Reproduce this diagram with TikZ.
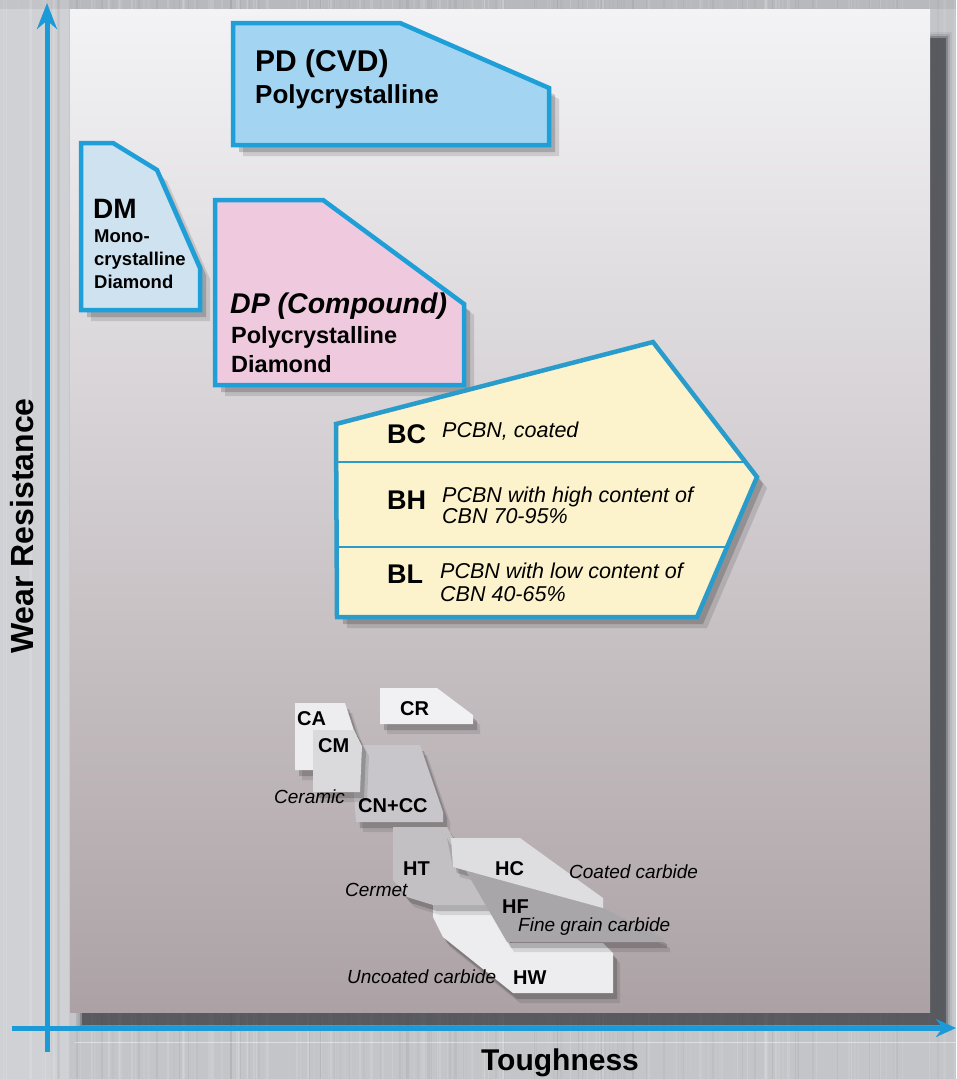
\documentclass[tikz,border=0pt]{standalone}
\usepackage{fontspec}
\setmainfont{Liberation Sans}
\usetikzlibrary{arrows.meta,shadows}
\definecolor{axisblue}{HTML}{1B9AD7}
\definecolor{edgeblue}{HTML}{1E9FD8}
\definecolor{bedge}{HTML}{2A9CCB}
\definecolor{pdfill}{HTML}{A3D5F2}
\definecolor{dmfill}{HTML}{CEE2F0}
\definecolor{dpfill}{HTML}{EFCADE}
\definecolor{bfill}{HTML}{FCF2CB}
\definecolor{bgmetal}{HTML}{C3C5C9}
\definecolor{paneltop}{HTML}{F3F3F6}
\definecolor{panelmid}{HTML}{DDD9DB}
\definecolor{panelbot}{HTML}{ACA2A5}
\definecolor{panelshadow}{HTML}{3C3F44}
\definecolor{gA}{HTML}{EDEDEF}
\definecolor{gM}{HTML}{DADADC}
\definecolor{gN}{HTML}{C8C6CA}
\definecolor{gR}{HTML}{F1F0F2}
\definecolor{gT}{HTML}{C2C0C3}
\definecolor{gC}{HTML}{DEDDE0}
\definecolor{gF}{HTML}{A9A6AA}
\definecolor{gW}{HTML}{EDECEE}
\newcommand\myfs[1]{\fontsize{#1}{#1}\selectfont}
\tikzset{
  bluebox/.style={draw=edgeblue, line width=4.5pt, line join=miter,
    drop shadow={shadow xshift=6pt, shadow yshift=-7pt, opacity=.18, fill=black},
    drop shadow={shadow xshift=10pt, shadow yshift=-11pt, opacity=.12, fill=black}},
  graybox/.style={draw=none,
    drop shadow={shadow xshift=4pt, shadow yshift=-6pt, opacity=.18, fill=black},
    drop shadow={shadow xshift=7pt, shadow yshift=-10pt, opacity=.10, fill=black}},
  lbl/.style={anchor=base west, inner sep=0pt, text=black},
  axisline/.style={draw=axisblue, line width=5pt},
  divider/.style={draw=bedge, line width=2.5pt}
}
\begin{document}
\begin{tikzpicture}[x=1pt,y=-1pt]
\useasboundingbox (0,0) rectangle (956,1079);
% metallic background
\fill[bgmetal] (0,0) rectangle (956,1079);
\fill[white, opacity=.22] (0,0) rectangle (70,1079);
\fill[black, opacity=.06] (0,0) rectangle (956,9);
\pgfmathsetseed{7}
\foreach \i in {1,...,220}{
  \pgfmathsetmacro\xx{rnd*956}
  \pgfmathsetmacro\oo{0.03+0.12*rnd}
  \pgfmathsetmacro\ww{0.5+2*rnd}
  \pgfmathsetmacro\cc{rnd>0.4 ? 1 : 0}
  \ifdim\cc pt>0.5pt
    \draw[white, opacity=\oo, line width=\ww pt] (\xx,0) -- (\xx,1079);
  \else
    \draw[black, opacity=\oo*0.35, line width=\ww pt] (\xx,0) -- (\xx,1079);
  \fi
}
\draw[white, opacity=.45, line width=.8pt] (75,1042) -- (956,1042);
% panel shadow
\foreach \d/\o in {0/.6,2/.3,4/.15,6/.08}{
  \fill[panelshadow, opacity=\o] (82-\d,38-\d) rectangle (946+\d,1025+\d);
}
% panel
\shade[top color=paneltop, middle color=panelmid, bottom color=panelbot]
  (70,9) rectangle (930,1012);

% ---- blue shapes ----
\path[bluebox, fill=pdfill] (233,23) -- (400,23) -- (549,88) -- (549,145) -- (233,145) -- cycle;
\path[bluebox, fill=dmfill] (81,143) -- (113,143) -- (157,170) -- (200,268) -- (200,310) -- (81,310) -- cycle;
\path[bluebox, fill=dpfill] (215,200) -- (323,200) -- (464,304) -- (464,385) -- (215,385) -- cycle;
\path[bluebox, draw=bedge, fill=bfill] (336,424) -- (653,342) -- (757,477) -- (697,617) -- (337,617) -- cycle;
\coordinate (d1l) at (337,462);
\coordinate (d1r) at (745,462);
\coordinate (d2l) at (337,547);
\coordinate (d2r) at (727,547);
\draw[divider] (d1l) -- (d1r);
\draw[divider] (d2l) -- (d2r);

% ---- texts in blue shapes ----
\node[lbl] (pd1) at (255,71) {\myfs{30}\bfseries PD (CVD)};
\node[lbl] (pd2) at (255,103) {\myfs{26}\bfseries Polycrystalline};
\node[lbl] (dm1) at (93,218) {\myfs{28}\bfseries DM};
\node[lbl] (dm2) at (94,242) {\myfs{18.5}\bfseries Mono-};
\node[lbl] (dm3) at (94,265) {\myfs{18.5}\bfseries crystalline};
\node[lbl] (dm4) at (94,288) {\myfs{18.5}\bfseries Diamond};
\node[lbl] (dp1) at (230,313) {\myfs{28.5}\bfseries\itshape DP (Compound)};
\node[lbl] (dp2) at (231,343) {\myfs{23.5}\bfseries Polycrystalline};
\node[lbl] (dp3) at (231,372) {\myfs{23.5}\bfseries Diamond};
\node[lbl] (bc1) at (387,443) {\myfs{27}\bfseries BC};
\node[lbl] (bc2) at (442,437) {\myfs{21.5}\itshape PCBN, coated};
\node[lbl] (bh1) at (387,509) {\myfs{27}\bfseries BH};
\node[lbl] (bh2) at (442,502) {\myfs{21.5}\itshape PCBN with high content of};
\node[lbl] (bh3) at (442,523) {\myfs{21.5}\itshape CBN 70-95\%};
\node[lbl] (bl1) at (387,583) {\myfs{27}\bfseries BL};
\node[lbl] (bl2) at (440,578) {\myfs{21.5}\itshape PCBN with low content of};
\node[lbl] (bl3) at (440,601) {\myfs{21.5}\itshape CBN 40-65\%};

% ---- gray shapes ----
\path[graybox, fill=gR] (380,688) -- (437,688) -- (473,715) -- (473,724) -- (380,724) -- cycle;
\path[graybox, fill=gA] (295,703) -- (345,703) -- (357,740) -- (357,770) -- (295,770) -- cycle;
\path[graybox, fill=gN] (350,745) -- (420,745) -- (443,812) -- (443,822) -- (356,822) -- cycle;
\path[graybox, fill=gM] (313,730) -- (354,730) -- (362,746) -- (360,792) -- (313,792) -- cycle;
\path[graybox, fill=gW] (433,905) -- (490,905) -- (510,943) -- (603,943) -- (613,953) -- (613,993) -- (513,993) -- (443,937) -- (433,917) -- cycle;
\path[graybox, fill=gT] (393,827) -- (447,827) -- (490,905) -- (433,905) -- (407,897) -- (393,880) -- cycle;
\path[graybox, fill=gF] (447,838) -- (453,867) -- (603,908) -- (663,938) -- (663,942) -- (507,942) -- cycle;
\path[fill=gC] (451,838) -- (520,838) -- (603,898) -- (603,908) -- (453,867) -- cycle;

% ---- gray labels ----
\node[lbl] (ca) at (297,725) {\myfs{20}\bfseries CA};
\node[lbl] (cm) at (318,752) {\myfs{20}\bfseries CM};
\node[lbl] (cr) at (400,715) {\myfs{20}\bfseries CR};
\node[lbl] (cn) at (358,812) {\myfs{20}\bfseries CN+CC};
\node[lbl] (ht) at (403,875) {\myfs{20}\bfseries HT};
\node[lbl] (hc) at (495,875) {\myfs{20}\bfseries HC};
\node[lbl] (hf) at (502,913) {\myfs{20}\bfseries HF};
\node[lbl] (hw) at (513,984) {\myfs{20}\bfseries HW};
\node[lbl] (ceramic) at (274,803) {\myfs{19}\itshape Ceramic};
\node[lbl] (coated) at (569,878) {\myfs{19}\itshape Coated carbide};
\node[lbl] (cermet) at (345,896) {\myfs{19}\itshape Cermet};
\node[lbl] (fine) at (518,931) {\myfs{19}\itshape Fine grain carbide};
\node[lbl] (uncoated) at (347,983) {\myfs{19}\itshape Uncoated carbide};

% ---- axes ----
\coordinate (yb) at (47,1052);
\coordinate (yt) at (47,3);
\coordinate (xl) at (12,1028);
\coordinate (xr) at (956,1028);
\draw[axisline, -{Stealth[length=26pt,width=20pt]}] (yb) -- (yt);
\draw[axisline, -{Stealth[length=20pt,width=18pt]}] (xl) -- (xr);
\node[anchor=base, inner sep=0pt, rotate=90] (wear) at (34,526) {\myfs{32}\bfseries Wear Resistance};
\node[anchor=base, inner sep=0pt] (tough) at (560,1070) {\myfs{30}\bfseries Toughness};
\end{tikzpicture}
\end{document}
